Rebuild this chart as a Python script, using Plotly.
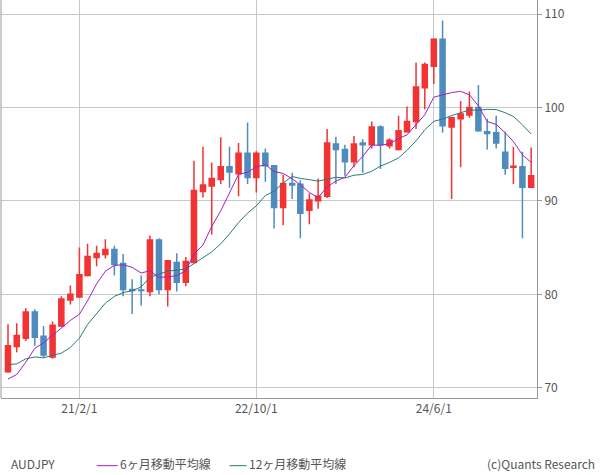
import pandas as pd
import plotly.graph_objects as go

# monthly AUDJPY candles, 2020/6 - 2025/5
months = pd.date_range("2020-06-01", periods=60, freq="MS")
opens = [71.7, 74.4, 75.3, 78.1, 75.5, 73.3, 76.6, 79.4, 79.7, 82.0,
         83.95, 84.27, 84.8, 83.3, 80.5, 80.45, 80.3, 85.8, 80.5, 83.4,
         81.3, 83.4, 91.0, 91.6, 92.3, 93.65, 92.9, 95.1, 92.5, 95.1,
         93.75, 89.3, 91.85, 91.77, 89.0, 90.0, 90.5, 96.1, 95.5, 94.2,
         96.2, 96.0, 97.9, 95.9, 95.5, 97.4, 98.5, 102.1, 104.4, 107.3,
         97.9, 98.8, 99.2, 100.0, 97.4, 97.3, 95.2, 93.6, 93.65, 91.45]
highs = [76.8, 76.9, 78.5, 78.4, 76.6, 77.1, 79.8, 80.95, 85.0, 85.4,
         85.2, 85.9, 85.2, 84.3, 81.6, 82.0, 86.3, 86.0, 83.7, 84.4,
         84.0, 94.3, 95.8, 94.1, 96.8, 95.8, 96.2, 98.4, 95.3, 95.6,
         93.8, 92.8, 93.0, 92.2, 90.8, 92.4, 97.7, 96.85, 96.0, 96.95,
         96.6, 98.5, 98.1, 96.7, 99.1, 100.1, 104.8, 104.8, 107.4, 109.3,
         99.0, 100.7, 101.7, 102.4, 98.8, 99.1, 97.4, 95.8, 95.25, 95.7]
lows = [71.6, 73.8, 75.0, 74.5, 73.2, 73.1, 76.5, 78.9, 79.6, 81.9,
        83.0, 83.84, 82.0, 79.8, 77.9, 78.8, 79.8, 80.0, 78.7, 80.3,
        80.85, 83.3, 90.35, 86.4, 91.8, 91.4, 90.5, 91.8, 90.9, 92.05,
        87.05, 87.4, 90.2, 86.0, 87.5, 89.15, 90.3, 91.8, 92.7, 93.6,
        93.0, 95.6, 93.4, 95.6, 95.4, 97.3, 97.7, 99.8, 102.5, 97.3,
        90.2, 93.6, 98.9, 97.4, 95.5, 95.6, 92.8, 91.8, 86.0, 91.4]
closes = [74.5, 75.6, 78.1, 75.4, 73.5, 76.7, 79.5, 80.0, 82.1, 84.05,
          84.37, 84.8, 83.2, 80.5, 80.4, 80.4, 85.8, 80.5, 83.6, 81.3,
          83.5, 91.1, 91.7, 92.4, 93.65, 93.1, 95.1, 92.5, 95.1, 93.75,
          89.3, 91.85, 91.7, 88.68, 90.1, 90.5, 96.2, 95.5, 94.2, 96.1,
          96.0, 97.9, 96.0, 96.5, 97.5, 98.5, 102.2, 104.6, 107.3, 98.05,
          98.9, 99.3, 100.0, 97.5, 97.2, 96.2, 93.5, 93.7, 91.45, 92.7]
# closes 2019/7 - 2020/5, needed for the moving averages
prior_closes = [74.8, 71.6, 73.0, 74.5, 74.0, 76.3, 72.7, 70.2, 66.5, 70.0, 71.7]

all_closes = pd.Series(prior_closes + closes)
ma6 = all_closes.rolling(6).mean().iloc[len(prior_closes):].values
ma12 = all_closes.rolling(12).mean().iloc[len(prior_closes):].values

tick_dates = ["2021-02-01", "2022-10-01", "2024-06-01"]
tick_text = ["21/2/1", "22/10/1", "24/6/1"]

RED = "#f33333"
BLUE = "#4f8bbd"
PURPLE = "#a020c0"
TEAL = "#2a7a78"
GRID = "#c8c8c8"
FONT = "Noto Sans CJK JP"

fig = go.Figure()
fig.add_trace(go.Candlestick(
    x=months, open=opens, high=highs, low=lows, close=closes,
    increasing=dict(line=dict(color=RED, width=1.5), fillcolor=RED),
    decreasing=dict(line=dict(color=BLUE, width=1.5), fillcolor=BLUE),
    whiskerwidth=0, showlegend=False))
fig.add_trace(go.Scatter(x=months, y=ma12, mode="lines",
                         line=dict(color=TEAL, width=1), showlegend=False))
fig.add_trace(go.Scatter(x=months, y=ma6, mode="lines",
                         line=dict(color=PURPLE, width=1), showlegend=False))

fig.update_layout(
    width=600, height=475,
    margin=dict(l=1, r=63, t=0, b=77),
    paper_bgcolor="white", plot_bgcolor="white",
    boxgap=0.12,
    font=dict(family=FONT, size=12, color="#555"),
    xaxis=dict(range=["2020-05-08", "2025-05-21"], rangeslider=dict(visible=False),
               tickvals=tick_dates, ticktext=tick_text, showgrid=True,
               gridcolor=GRID, gridwidth=1, showline=True, linecolor="#999",
               mirror=False, ticks="", zeroline=False),
    yaxis=dict(range=[68.9, 111.5], side="right", tickvals=[70, 80, 90, 100, 110],
               showgrid=True, gridcolor=GRID, showline=True, linecolor="#999",
               ticks="outside", ticklen=4, tickcolor="#999", zeroline=False),
)
# left border of the plot
fig.add_shape(type="line", xref="paper", yref="paper", x0=0, x1=0, y0=0, y1=1,
              line=dict(color="#999", width=1))

# footer legend
ly = -0.19
line_y = ly + 0.02
fig.add_annotation(text="AUDJPY", xref="paper", yref="paper", x=0.015, y=ly,
                   xanchor="left", showarrow=False)
fig.add_shape(type="line", xref="paper", yref="paper", x0=96 / 537, x1=117 / 537,
              y0=line_y, y1=line_y, line=dict(color=PURPLE, width=1))
fig.add_annotation(text="6ヶ月移動平均線", xref="paper", yref="paper", x=117 / 537, y=ly,
                   xanchor="left", showarrow=False)
fig.add_shape(type="line", xref="paper", yref="paper", x0=229 / 537, x1=246 / 537,
              y0=line_y, y1=line_y, line=dict(color=TEAL, width=1))
fig.add_annotation(text="12ヶ月移動平均線", xref="paper", yref="paper", x=246 / 537, y=ly,
                   xanchor="left", showarrow=False)
fig.add_annotation(text="(c)Quants Research", xref="paper", yref="paper", x=597 / 537,
                   y=ly, xanchor="right", showarrow=False)

fig.write_html("out.html", config={"displayModeBar": False},
               post_script="document.body.style.margin='0';")
